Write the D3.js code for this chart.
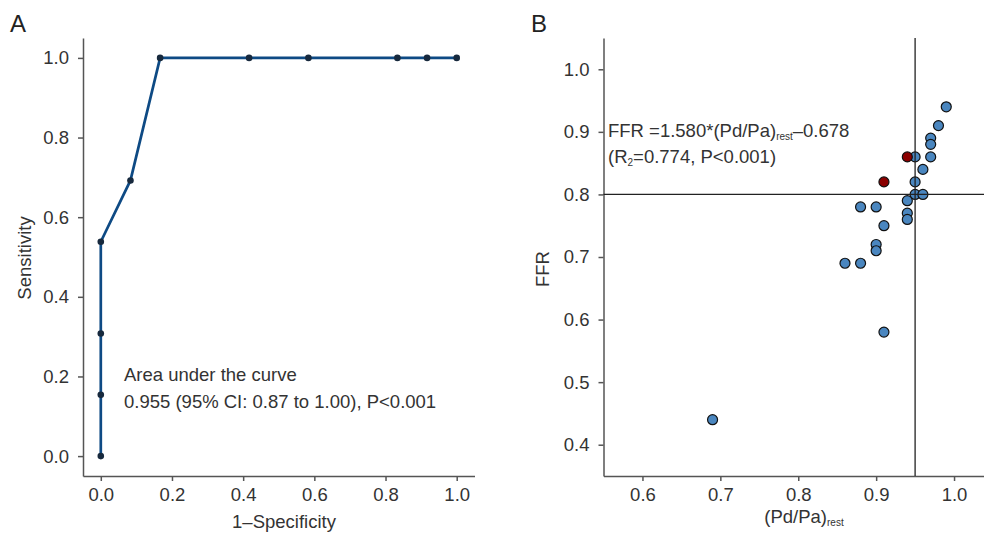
<!DOCTYPE html>
<html>
<head>
<meta charset="utf-8">
<script src="https://cdn.jsdelivr.net/npm/d3@7"></script>
<style>
  body { margin: 0; background: #fff; }
  svg { display: block; font-family: "Liberation Sans", Arial, Helvetica, sans-serif; }
  .axis text { font-size: 18.5px; fill: #333; }
  .axis path, .axis line { stroke: #555; stroke-width: 1.5; }
</style>
</head>
<body>
<svg id="chart" width="984" height="536"></svg>
<script>
// ROC curve (panel A)
const rocFpr  = [0, 0, 0, 0, 1/12, 2/12, 5/12, 7/12, 10/12, 11/12, 1];
const rocSens = [0, 2/13, 4/13, 7/13, 9/13, 1, 1, 1, 1, 1, 1];
const rocTicks = [0, 0.2, 0.4, 0.6, 0.8, 1.0];

// scatter (panel B): resting Pd/Pa vs FFR
const pdpaBlue = [0.99, 0.98, 0.97, 0.97, 0.97, 0.96, 0.95, 0.95, 0.95, 0.96, 0.94, 0.94, 0.94, 0.88, 0.90, 0.91, 0.90, 0.90, 0.86, 0.88, 0.91, 0.69];
const ffrBlue  = [0.94, 0.91, 0.89, 0.88, 0.86, 0.84, 0.86, 0.82, 0.80, 0.80, 0.79, 0.77, 0.76, 0.78, 0.78, 0.75, 0.72, 0.71, 0.69, 0.69, 0.58, 0.44];
const pdpaRed  = [0.94, 0.91];
const ffrRed   = [0.86, 0.82];
const bxTicks = [0.6, 0.7, 0.8, 0.9, 1.0];
const byTicks = [0.4, 0.5, 0.6, 0.7, 0.8, 0.9, 1.0];
const cutPdpa = 0.95, cutFfr = 0.8;

const svg = d3.select("#chart");
const fmt = d3.format(".1f");

// ---------- panel A ----------
const xA = d3.scaleLinear().domain([-0.05, 1.05]).range([83, 474.5]);
const yA = d3.scaleLinear().domain([-0.05, 1.05]).range([476, 38]);

svg.append("g").attr("class", "axis").attr("transform", "translate(83,0)")
  .call(d3.axisLeft(yA).tickValues(rocTicks).tickFormat(fmt).tickSize(5).tickSizeOuter(0).tickPadding(9));
svg.append("g").attr("class", "axis").attr("transform", "translate(0,476)")
  .call(d3.axisBottom(xA).tickValues(rocTicks).tickFormat(fmt).tickSize(5).tickSizeOuter(0).tickPadding(7));

const roc = rocFpr.map((d, i) => [d, rocSens[i]]);
svg.append("path").datum(roc)
  .attr("fill", "none").attr("stroke", "#0e4a84").attr("stroke-width", 2.7)
  .attr("d", d3.line().x(d => xA(d[0])).y(d => yA(d[1])));
svg.selectAll(".rocPt").data(roc).enter().append("circle")
  .attr("class", "rocPt")
  .attr("cx", d => xA(d[0])).attr("cy", d => yA(d[1]))
  .attr("r", 3.3).attr("fill", "#17293d");

svg.append("text").attr("x", 124).attr("y", 381).attr("font-size", 18.5).attr("fill", "#333")
  .text("Area under the curve");
svg.append("text").attr("x", 124).attr("y", 408).attr("font-size", 18.5).attr("fill", "#333")
  .text("0.955 (95% CI: 0.87 to 1.00), P<0.001");

svg.append("text").attr("x", 284).attr("y", 528).attr("text-anchor", "middle")
  .attr("font-size", 18.5).attr("fill", "#333").text("1–Specificity");
svg.append("text").attr("transform", "translate(31,258) rotate(-90)").attr("text-anchor", "middle")
  .attr("font-size", 18.5).attr("fill", "#333").text("Sensitivity");
svg.append("text").attr("x", 10).attr("y", 32).attr("font-size", 24).attr("fill", "#222").text("A");

// ---------- panel B ----------
const xB = d3.scaleLinear().domain([0.55, 1.05]).range([603.5, 993]);
const yB = d3.scaleLinear().domain([0.35, 1.05]).range([476, 38]);

svg.append("g").attr("class", "axis").attr("transform", "translate(603.5,0)")
  .call(d3.axisLeft(yB).tickValues(byTicks).tickFormat(fmt).tickSize(5).tickSizeOuter(0).tickPadding(9));
svg.append("g").attr("class", "axis").attr("transform", "translate(0,476)")
  .call(d3.axisBottom(xB).tickValues(bxTicks).tickFormat(fmt).tickSize(5).tickSizeOuter(0).tickPadding(7));

const blue = pdpaBlue.map((d, i) => [d, ffrBlue[i]]);
const red = pdpaRed.map((d, i) => [d, ffrRed[i]]);
svg.selectAll(".bluePt").data(blue).enter().append("circle")
  .attr("class", "bluePt")
  .attr("cx", d => xB(d[0])).attr("cy", d => yB(d[1]))
  .attr("r", 5).attr("fill", "#4a86bf").attr("stroke", "#111").attr("stroke-width", 1.2);
svg.selectAll(".redPt").data(red).enter().append("circle")
  .attr("class", "redPt")
  .attr("cx", d => xB(d[0])).attr("cy", d => yB(d[1]))
  .attr("r", 5).attr("fill", "#8b0000").attr("stroke", "#111").attr("stroke-width", 1.2);

// cut-off lines
svg.append("line").attr("x1", xB(cutPdpa)).attr("x2", xB(cutPdpa)).attr("y1", yB(1.05)).attr("y2", yB(0.35))
  .attr("stroke", "#222").attr("stroke-width", 1.3);
svg.append("line").attr("x1", xB(0.55)).attr("x2", xB(1.05)).attr("y1", yB(cutFfr)).attr("y2", yB(cutFfr))
  .attr("stroke", "#222").attr("stroke-width", 1.3);

const eq = svg.append("text").attr("x", 608).attr("y", 137).attr("font-size", 18.5).attr("fill", "#333");
eq.append("tspan").text("FFR =1.580*(Pd/Pa)");
eq.append("tspan").attr("font-size", 10).attr("dy", 3).text("rest");
eq.append("tspan").attr("dy", -3).text("–0.678");
const r2 = svg.append("text").attr("x", 608).attr("y", 163).attr("font-size", 18.5).attr("fill", "#333");
r2.append("tspan").text("(R");
r2.append("tspan").attr("font-size", 10).attr("dy", 3).text("2");
r2.append("tspan").attr("dy", -3).text("=0.774, P<0.001)");

const xl = svg.append("text").attr("x", 804).attr("y", 523).attr("text-anchor", "middle")
  .attr("font-size", 18.5).attr("fill", "#333");
xl.append("tspan").text("(Pd/Pa)");
xl.append("tspan").attr("font-size", 10).attr("dy", 3).text("rest");
svg.append("text").attr("transform", "translate(549,269) rotate(-90)").attr("text-anchor", "middle")
  .attr("font-size", 18.5).attr("fill", "#333").text("FFR");
svg.append("text").attr("x", 531).attr("y", 32).attr("font-size", 24).attr("fill", "#222").text("B");
</script>
</body>
</html>
